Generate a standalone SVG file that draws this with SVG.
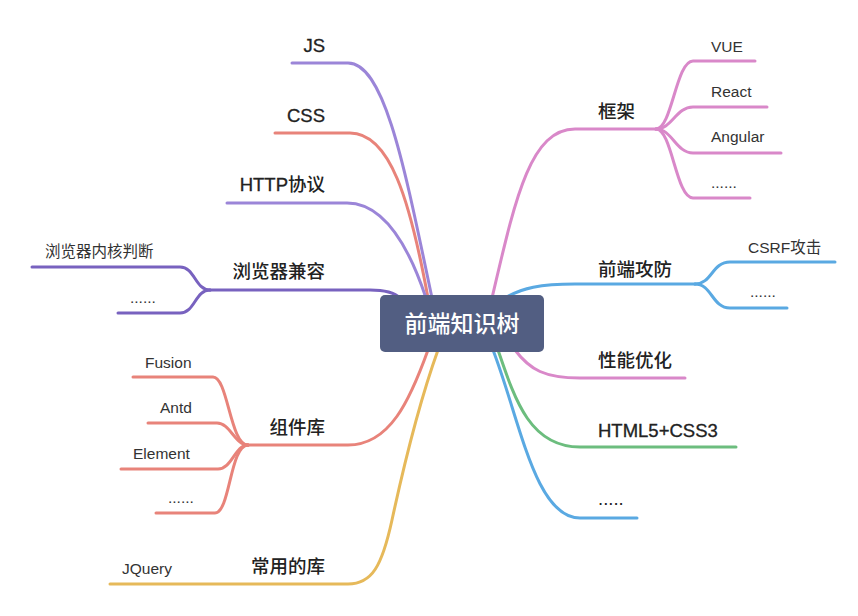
<svg xmlns="http://www.w3.org/2000/svg" width="858" height="616" viewBox="0 0 858 616">
<style>
.l{fill:none;stroke-width:3;stroke-linecap:round;stroke-linejoin:round}
.pu{stroke:#9b85d8}.dp{stroke:#7862bf}.rd{stroke:#e8837a}.pk{stroke:#d988c9}.bl{stroke:#5aa9e2}.gr{stroke:#6cbd7e}.yl{stroke:#e6b95a}
text{font-family:"Liberation Sans","Noto Sans CJK SC",sans-serif;fill:#222}
.m{font-size:18.5px;font-weight:500}
.ml{stroke:#222;stroke-width:0.32}
.c{font-size:15.5px;fill:#333}
.e{text-anchor:end}
</style>
<rect width="858" height="616" fill="#fff"/>
<g id="connectors">
<path class="l pu" d="M292,63 H348 C385,63 405,170 432,298"/>
<path class="l rd" d="M275,133 H350 C390,133 410,200 428,298"/>
<path class="l pu" d="M227,203 H347 C385,203 410,250 426,298"/>
<path class="l dp" d="M210,290 H370 C385,290 395,293 400,298"/>
<path class="l dp" d="M210,290 C195,290 195,267 180,267 H32"/>
<path class="l dp" d="M210,290 C195,290 195,313 180,313 H118"/>
<path class="l rd" d="M248,445 H348 C390,445 410,400 428,350"/>
<path class="l rd" d="M248,445 C230,445 228,377 213,377 H133"/>
<path class="l rd" d="M248,445 C235,445 230,423 217,423 H148"/>
<path class="l rd" d="M248,445 C235,445 232,469 218,469 H121"/>
<path class="l rd" d="M248,445 C230,445 230,513 215,513 H156"/>
<path class="l yl" d="M110,584 H348 C372,584 382,566 392,520 C405,460 420,400 438,350"/>
<path class="l pk" d="M492,298 C515,200 530,129 575,129 H656"/>
<path class="l pk" d="M656,129 C672,129 676,61 693,61 H755"/>
<path class="l pk" d="M656,129 C672,129 676,107 693,107 H767"/>
<path class="l pk" d="M656,129 C672,129 676,153 693,153 H781"/>
<path class="l pk" d="M656,129 C672,129 676,198 693,198 H750"/>
<path class="l bl" d="M505,298 C522,288 540,284 575,284 H695"/>
<path class="l bl" d="M695,284 C712,284 712,262 730,262 H835"/>
<path class="l bl" d="M695,284 C712,284 712,308 730,308 H787"/>
<path class="l pk" d="M515,350 C530,370 545,378 580,378 H685"/>
<path class="l gr" d="M498,350 C515,400 530,447 580,447 H736"/>
<path class="l bl" d="M493,350 C520,420 535,518 580,518 H637"/>
</g>
<g id="root">
<rect x="380" y="295" width="164" height="57" rx="5" fill="#525e82"/>
<text x="462" y="332" text-anchor="middle" style="font-size:23px;font-weight:500;fill:#fff">前端知识树</text>
</g>
<g id="n-js"><text class="m ml e" x="325" y="52">JS</text></g>
<g id="n-css"><text class="m ml e" x="325" y="122">CSS</text></g>
<g id="n-http"><text class="m e" x="325" y="191"><tspan class="ml">HTTP</tspan>协议</text></g>
<g id="n-compat"><text class="m e" x="325" y="278">浏览器兼容</text></g>
<g id="n-kernel"><text class="c" x="45" y="257">浏览器内核判断</text></g>
<g id="n-compat-more"><text class="c" x="130" y="303">......</text></g>
<g id="n-comp"><text class="m e" x="325" y="434">组件库</text></g>
<g id="n-fusion"><text class="c" x="145" y="368">Fusion</text></g>
<g id="n-antd"><text class="c" x="160" y="413">Antd</text></g>
<g id="n-element"><text class="c" x="133" y="459">Element</text></g>
<g id="n-comp-more"><text class="c" x="168" y="503">......</text></g>
<g id="n-lib"><text class="m e" x="325" y="573">常用的库</text></g>
<g id="n-jquery"><text class="c" x="122" y="574">JQuery</text></g>
<g id="n-frame"><text class="m" x="598" y="118">框架</text></g>
<g id="n-vue"><text class="c" x="711" y="52">VUE</text></g>
<g id="n-react"><text class="c" x="711" y="97">React</text></g>
<g id="n-angular"><text class="c" x="711" y="142">Angular</text></g>
<g id="n-frame-more"><text class="c" x="711" y="188">......</text></g>
<g id="n-sec"><text class="m" x="598" y="276">前端攻防</text></g>
<g id="n-csrf"><text class="c" x="748" y="253">CSRF攻击</text></g>
<g id="n-sec-more"><text class="c" x="750" y="297">......</text></g>
<g id="n-perf"><text class="m" x="598" y="367">性能优化</text></g>
<g id="n-html5"><text class="m ml" x="598" y="437">HTML5+CSS3</text></g>
<g id="n-more"><text class="m" x="598" y="505">.....</text></g>
</svg>
